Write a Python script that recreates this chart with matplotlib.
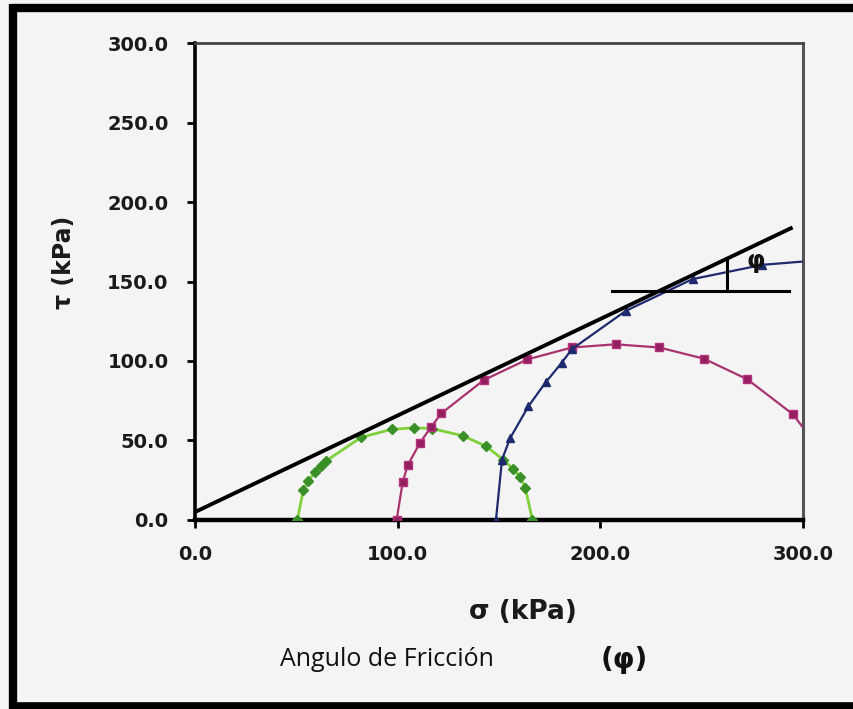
import matplotlib
matplotlib.use('Agg')
import matplotlib.pyplot as plt
from matplotlib.lines import Line2D

# circulo de Mohr 1 (verde)
sig_g = [50.5, 53.5, 56, 59, 62, 64.5, 82, 97, 108, 117, 132, 143.5, 152, 157, 160.5, 163, 166.5]
tau_g = [0, 19, 24.5, 30, 34, 37, 52, 57, 58, 57.5, 53, 46.5, 38, 32, 27, 20, 0]

# circulo de Mohr 2 (magenta)
sig_m = [99.5, 102.5, 105, 111, 116.5, 121.5, 142.5, 164, 186, 207.5, 229, 251, 272.5, 295, 315, 320]
tau_m = [0, 24, 34.5, 48.5, 58.5, 67, 88, 101, 108.5, 110.5, 108.5, 101.5, 88.5, 66.5, 33, 0]

# circulo de Mohr 3 (azul)
sig_b = [148.5, 151.5, 155.5, 164.5, 173, 181, 186, 212.5, 245.5, 280, 314]
tau_b = [0, 38, 51.5, 71.5, 86.5, 99, 107.5, 131.5, 151.5, 160.5, 164]

# envolvente de falla
sig_env = [0, 294]
tau_env = [5, 183.5]

# construccion del angulo
sig_h = [206, 293]
tau_h = [144, 144]
sig_v = [262.5, 262.5]
tau_v = [144, 164.5]

ticks = [0, 100, 200, 300]
yticks = [0, 50, 100, 150, 200, 250, 300]

bg = '#f4f4f4'
fig = plt.figure(figsize=(8.54, 7.09), dpi=100, facecolor=bg)
ax = fig.add_axes([0.2283, 0.2666, 0.712, 0.6727])
ax.set_facecolor(bg)

ax.plot(sig_g, tau_g, color='#7fd13b', lw=2, marker='D', ms=5,
        mfc='#3a8f28', mec='#3a8f28', zorder=3)
ax.plot(sig_m, tau_m, color='#a8336f', lw=1.6, marker='s', ms=6,
        mfc='#93205e', mec='#b8337f', zorder=3)
ax.plot(sig_b, tau_b, color='#1f2a6e', lw=1.6, marker='^', ms=6,
        mfc='#1f2a6e', mec='#1f2a6e', zorder=3)
ax.plot(sig_env, tau_env, color='black', lw=2.8, zorder=4)
ax.plot(sig_h, tau_h, color='black', lw=2.2, zorder=4)
ax.plot(sig_v, tau_v, color='black', lw=2.2, zorder=4)

ax.text(276.5, 163, 'φ', fontsize=17, fontweight='bold', ha='center', va='center',
        color='#111111', zorder=5)

ax.set_xlim(0, 300)
ax.set_ylim(0, 300)
ax.set_xticks(ticks)
ax.set_yticks(yticks)
ax.set_xticklabels(['%.1f' % t for t in ticks])
ax.set_yticklabels(['%.1f' % t for t in yticks])
ax.tick_params(axis='both', direction='out', length=6, width=2, labelsize=14,
               color='black')
ax.tick_params(axis='y', pad=13)
ax.tick_params(axis='x', pad=12)
for lab in ax.get_xticklabels() + ax.get_yticklabels():
    lab.set_fontweight('bold')
    lab.set_color('#1a1a1a')

ax.spines['left'].set_linewidth(2.6)
ax.spines['bottom'].set_linewidth(3.2)
ax.spines['top'].set_linewidth(2)
ax.spines['right'].set_linewidth(2.2)
ax.spines['top'].set_color('#444444')
ax.spines['right'].set_color('#555555')

ax.set_xlabel('σ (kPa)', fontsize=19, fontweight='bold', color='#1a1a1a')
ax.xaxis.set_label_coords(0.54, -0.166)
ax.set_ylabel('τ (kPa)', fontsize=17, fontweight='bold', color='#1a1a1a')
ax.yaxis.set_label_coords(-0.195, 0.54)

fig.text(387 / 854, 1 - 660 / 709, 'Angulo de Fricción', fontsize=18,
         family='Open Sans', ha='center', va='center', color='#111111')
fig.text(624 / 854, 1 - 660 / 709, '(φ)', fontsize=20, fontweight='bold',
         ha='center', va='center', color='#111111')

# marco negro
fig.add_artist(Line2D([0.0135, 1.0], [1 - 8 / 709, 1 - 8 / 709], color='black', lw=6,
                      transform=fig.transFigure, solid_capstyle='butt'))
fig.add_artist(Line2D([0.0135, 1.0], [1 - 705.5 / 709, 1 - 705.5 / 709], color='black',
                      lw=5.5, transform=fig.transFigure, solid_capstyle='butt'))
fig.add_artist(Line2D([13 / 854, 13 / 854], [1 - 709 / 709, 1 - 4 / 709], color='black',
                      lw=6, transform=fig.transFigure, solid_capstyle='butt'))

fig.savefig('out.png', dpi=100, facecolor=bg)
